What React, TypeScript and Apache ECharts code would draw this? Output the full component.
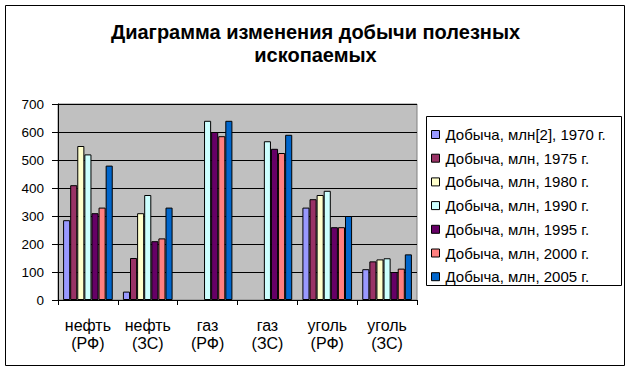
import React, { useEffect, useRef } from "react";
import * as echarts from "echarts";

const categories = ["нефть\n(РФ)", "нефть\n(ЗС)", "газ\n(РФ)", "газ\n(ЗС)", "уголь\n(РФ)", "уголь\n(ЗС)"];
const seriesNames = [
  "Добыча, млн[2], 1970 г.",
  "Добыча, млн, 1975 г.",
  "Добыча, млн, 1980 г.",
  "Добыча, млн, 1990 г.",
  "Добыча, млн, 1995 г.",
  "Добыча, млн, 2000 г.",
  "Добыча, млн, 2005 г.",
];
const colors = ["#9999FF", "#993366", "#FFFFCC", "#CCFFFF", "#660066", "#FF8080", "#0066CC"];
const y1970 = [285, 30, null, null, 330, 110];
const y1975 = [410, 150, null, null, 360, 138];
const y1980 = [550, 310, null, null, 375, 145];
const y1990 = [520, 375, 640, 567, 390, 149];
const y1995 = [310, 210, 600, 540, 260, 100];
const y2000 = [330, 220, 585, 525, 260, 112];
const y2005 = [480, 330, 640, 590, 300, 163];
const values = [y1970, y1975, y1980, y1990, y1995, y2000, y2005];
const titleText = "Диаграмма изменения добычи полезных\nископаемых";

const FONT = "'Liberation Sans', Arial, sans-serif";

export default function App() {
  const ref = useRef<HTMLDivElement>(null);
  useEffect(() => {
    const chart = echarts.init(ref.current!, null, { renderer: "svg" });
    chart.setOption({
      animation: false,
      backgroundColor: "#ffffff",
      title: {
        text: titleText,
        left: "center",
        top: 15,
        textStyle: { fontFamily: FONT, fontSize: 20, fontWeight: "bold", color: "#000", lineHeight: 23 },
      },
      grid: {
        left: 58,
        right: 214,
        top: 104,
        bottom: 72,
        show: true,
        backgroundColor: "#C0C0C0",
        borderColor: "#808080",
        borderWidth: 1,
      },
      legend: {
        orient: "vertical",
        left: 426,
        top: 122,
        itemWidth: 8,
        itemHeight: 8,
        itemGap: 8.7,
        itemStyle: { borderColor: "#000", borderWidth: 1 },
        icon: "rect",
        data: seriesNames,
        textStyle: { fontFamily: FONT, fontSize: 15, lineHeight: 15, color: "#000", padding: [0, 0, 0, 1] },
      },
      xAxis: {
        type: "category",
        data: categories,
        axisLine: { lineStyle: { color: "#000", width: 1 } },
        axisTick: { show: true, alignWithLabel: false, length: 5, lineStyle: { color: "#000" } },
        axisLabel: { fontFamily: FONT, fontSize: 16, color: "#000", lineHeight: 18, margin: 16, interval: 0 },
      },
      yAxis: {
        type: "value",
        min: 0,
        max: 700,
        interval: 100,
        axisLine: { show: true, lineStyle: { color: "#000", width: 1 } },
        axisTick: { show: true, length: 6, lineStyle: { color: "#000" } },
        axisLabel: { fontFamily: FONT, fontSize: 13.5, color: "#000", margin: 14 },
        splitLine: { show: true, lineStyle: { color: "#000", width: 1 } },
      },
      series: seriesNames.map((name, i) => ({
        name,
        type: "bar",
        data: values[i],
        barGap: "0%",
        barCategoryGap: "17%",
        itemStyle: { color: colors[i], borderColor: "#000", borderWidth: 1 },
      })),
      graphic: [
        {
          type: "rect",
          shape: { x: 5.5, y: 5.5, width: 619, height: 360 },
          style: { fill: "none", stroke: "#000", lineWidth: 1 },
          silent: true,
        },
        {
          type: "rect",
          shape: { x: 426.5, y: 116.5, width: 195, height: 169 },
          style: { fill: "none", stroke: "#000", lineWidth: 1 },
          silent: true,
        },
      ],
    });
    return () => chart.dispose();
  }, []);
  return <div ref={ref} style={{ position: "fixed", left: 0, top: 0, width: 631, height: 372 }} />;
}
